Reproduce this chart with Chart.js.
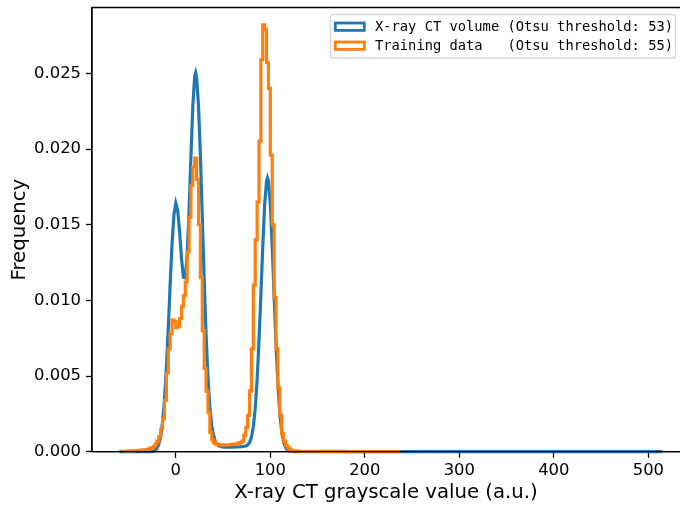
<!DOCTYPE html>
<html>
<head>
<meta charset="utf-8">
<script src="https://cdn.jsdelivr.net/npm/chart.js@4"></script>
<style>
html,body{margin:0;padding:0;background:#fff;overflow:hidden}
#wrap{width:680px;height:506px}
</style>
</head>
<body>
<div id="wrap"><canvas id="c" width="680" height="506"></canvas></div>
<script>
// ---- Data ----
const seriesLabels = ['X-ray CT volume (Otsu threshold: 53)', 'Training data   (Otsu threshold: 55)'];

// X-ray CT volume: smooth histogram curve
const blueX = [-60,-40,-30,-26,-24,-22,-20,-18,-16,-14,-12,-10,-8,-6,-4,-2,0,2,4,6,8,10,12,14,16,18,20,21,22,24,26,28,30,32,34,36,38,40,42,45,50,55,60,65,70,74,76,78,80,82,84,86,88,90,92,94,96,97,98,100,102,104,106,108,110,112,114,116,118,120,125,130,200,300,400,515];
const blueY = [0,0,0.000005,0.00001,0.00003,0.00009,0.00022,0.00049,0.00102,0.00196,0.00344,0.00553,0.00816,0.01105,0.01371,0.01566,0.01643,0.01596,0.01452,0.01279,0.01153,0.01148,0.01299,0.0159,0.01954,0.02287,0.02482,0.02504,0.02475,0.02286,0.01957,0.01552,0.0114,0.00775,0.00488,0.00294,0.00173,0.00107,0.00065,0.0004,0.0003,0.0003,0.0003,0.00031,0.00033,0.00038,0.00045,0.0006,0.00095,0.00163,0.00284,0.00471,0.0073,0.0104,0.01358,0.01633,0.01789,0.0181,0.01789,0.01633,0.01358,0.0103,0.00713,0.00451,0.00259,0.00136,0.00065,0.00029,0.00011,0.00004,0.00001,0,0,0,0,0];

// Training data: step histogram (bin left edges, last entry closes the final bin)
const orangeEdges = [-56,-50,-44,-38,-34,-30,-28,-26,-24,-22,-20,-18,-16,-14,-12,-10,-8,-6,-4,-2,0,2,4,6,8,10,12,14,16,18,20,22,24,26,28,30,32,34,36,38,40,42,44,46,48,50,52,54,56,58,60,62,64,66,68,70,72,74,76,78,80,82,84,86,88,90,92,94,96,98,100,102,104,106,108,110,112,114,116,118,120,122,124,130,150,180,210,238];
const orangeCounts = [0.00002,0.00003,0.00005,0.00008,0.0001,0.00013,0.00016,0.0002,0.00026,0.00034,0.0005,0.0007,0.001,0.0015,0.0022,0.0034,0.0052,0.0068,0.0078,0.0087,0.0086,0.0082,0.0083,0.0088,0.0096,0.0103,0.0112,0.0132,0.0155,0.0176,0.0188,0.0194,0.018,0.015,0.0115,0.008,0.0055,0.004,0.0026,0.0013,0.0008,0.0006,0.0005,0.00048,0.00046,0.00045,0.00044,0.00045,0.00046,0.00045,0.00047,0.00048,0.0005,0.00052,0.00056,0.0006,0.0007,0.0011,0.0016,0.0024,0.004,0.0068,0.011,0.014,0.0165,0.0205,0.0259,0.0282,0.0279,0.0257,0.024,0.0196,0.015,0.0102,0.0068,0.0042,0.0024,0.0012,0.0007,0.0004,0.00025,0.00015,0.00008,0.00005,0.00003,0.00002,0.00001,0.00001];

const xTicks = [0,100,200,300,400,500];
const yTicks = [0,0.005,0.010,0.015,0.020,0.025];

const colors = ['#1f77b4', '#ff7f0e'];

// ---- Frame (spines) and in-axes legend ----
const framePlugin = {
  id: 'frame',
  afterDatasetsDraw(chart) {
    const {ctx, chartArea: a} = chart;
    ctx.save();
    ctx.strokeStyle = '#000';
    ctx.lineWidth = 1.3;
    ctx.beginPath();
    ctx.moveTo(a.left, a.bottom); ctx.lineTo(a.right + 2, a.bottom);
    ctx.moveTo(a.left, a.bottom); ctx.lineTo(a.left, a.top);
    ctx.lineTo(a.right + 2, a.top);
    ctx.stroke();
    ctx.restore();
  },
  afterDraw(chart) {
    const {ctx} = chart;
    ctx.save();
    // legend frame
    const bx = 330.5, by = 14.5, bw = 345, bh = 43.5, r = 3;
    ctx.beginPath();
    ctx.moveTo(bx + r, by);
    ctx.lineTo(bx + bw - r, by); ctx.quadraticCurveTo(bx + bw, by, bx + bw, by + r);
    ctx.lineTo(bx + bw, by + bh - r); ctx.quadraticCurveTo(bx + bw, by + bh, bx + bw - r, by + bh);
    ctx.lineTo(bx + r, by + bh); ctx.quadraticCurveTo(bx, by + bh, bx, by + bh - r);
    ctx.lineTo(bx, by + r); ctx.quadraticCurveTo(bx, by, bx + r, by);
    ctx.closePath();
    ctx.fillStyle = 'rgba(255,255,255,0.8)';
    ctx.fill();
    ctx.strokeStyle = 'rgba(204,204,204,0.8)';
    ctx.lineWidth = 1.3;
    ctx.stroke();
    const rows = [26.7, 45.7];
    chart.data.datasets.forEach((ds, i) => {
      const cy = rows[i];
      ctx.strokeStyle = ds.borderColor;
      ctx.lineWidth = 2.8;
      ctx.fillStyle = '#fff';
      ctx.fillRect(335.3, cy - 3.7, 29, 7.4);
      ctx.strokeRect(335.3, cy - 3.7, 29, 7.4);
      ctx.fillStyle = '#000';
      ctx.font = '13.75px "DejaVu Sans Mono"';
      ctx.textBaseline = 'alphabetic';
      ctx.textAlign = 'left';
      ctx.fillText(ds.label, 375, cy + 4.6);
    });
    ctx.restore();
  }
};

const tickFont = {family: 'DejaVu Sans', size: 16.4};
const titleFont = {family: 'DejaVu Sans', size: 19.7};

new Chart(document.getElementById('c').getContext('2d'), {
  type: 'line',
  data: {
    datasets: [
      {
        label: seriesLabels[0],
        data: blueX.map((x, i) => ({x: x, y: blueY[i]})),
        borderColor: colors[0], backgroundColor: colors[0],
        borderWidth: 3.2, pointRadius: 0, fill: false, tension: 0,
        order: 2, clip: 6
      },
      {
        label: seriesLabels[1],
        data: orangeEdges.map((x, i) => ({x: x, y: orangeCounts[i]})),
        borderColor: colors[1], backgroundColor: colors[1],
        borderWidth: 3.2, pointRadius: 0, fill: false, stepped: 'after',
        order: 1, clip: 6
      }
    ]
  },
  options: {
    responsive: false,
    animation: false,
    devicePixelRatio: 1,
    layout: {padding: {top: 7.5, right: 0, left: 0, bottom: 0}},
    plugins: {legend: {display: false}, tooltip: {enabled: false}},
    scales: {
      x: {
        type: 'linear', min: -88.7, max: 533.5,
        afterBuildTicks: s => { s.ticks = xTicks.map(v => ({value: v})); },
        afterFit: s => { s.height = 54.3; s.paddingLeft = 0; s.paddingRight = 0; },
        grid: {display: true, drawOnChartArea: false, drawTicks: true, tickLength: 6, tickWidth: 1.3, tickColor: '#000'},
        border: {display: true, color: '#000', width: 1.3},
        ticks: {color: '#000', font: tickFont, padding: 3, maxRotation: 0, autoSkip: false, callback: v => String(v)},
        title: {display: true, text: 'X-ray CT grayscale value (a.u.)', color: '#000', font: titleFont, padding: {top: 0, bottom: 1}}
      },
      y: {
        type: 'linear', min: 0, max: 0.02935,
        afterBuildTicks: s => { s.ticks = yTicks.map(v => ({value: v})); },
        afterFit: s => { s.width = 92; s.paddingTop = 0; s.paddingBottom = 0; },
        grid: {display: true, drawOnChartArea: false, drawTicks: true, tickLength: 6, tickWidth: 1.3, tickColor: '#000'},
        border: {display: true, color: '#000', width: 1.3},
        ticks: {color: '#000', font: tickFont, padding: 5, autoSkip: false, callback: v => Number(v).toFixed(3)},
        title: {display: true, text: 'Frequency', color: '#000', font: titleFont, padding: {top: 8, bottom: 0}}
      }
    }
  },
  plugins: [framePlugin]
});
</script>
</body>
</html>
